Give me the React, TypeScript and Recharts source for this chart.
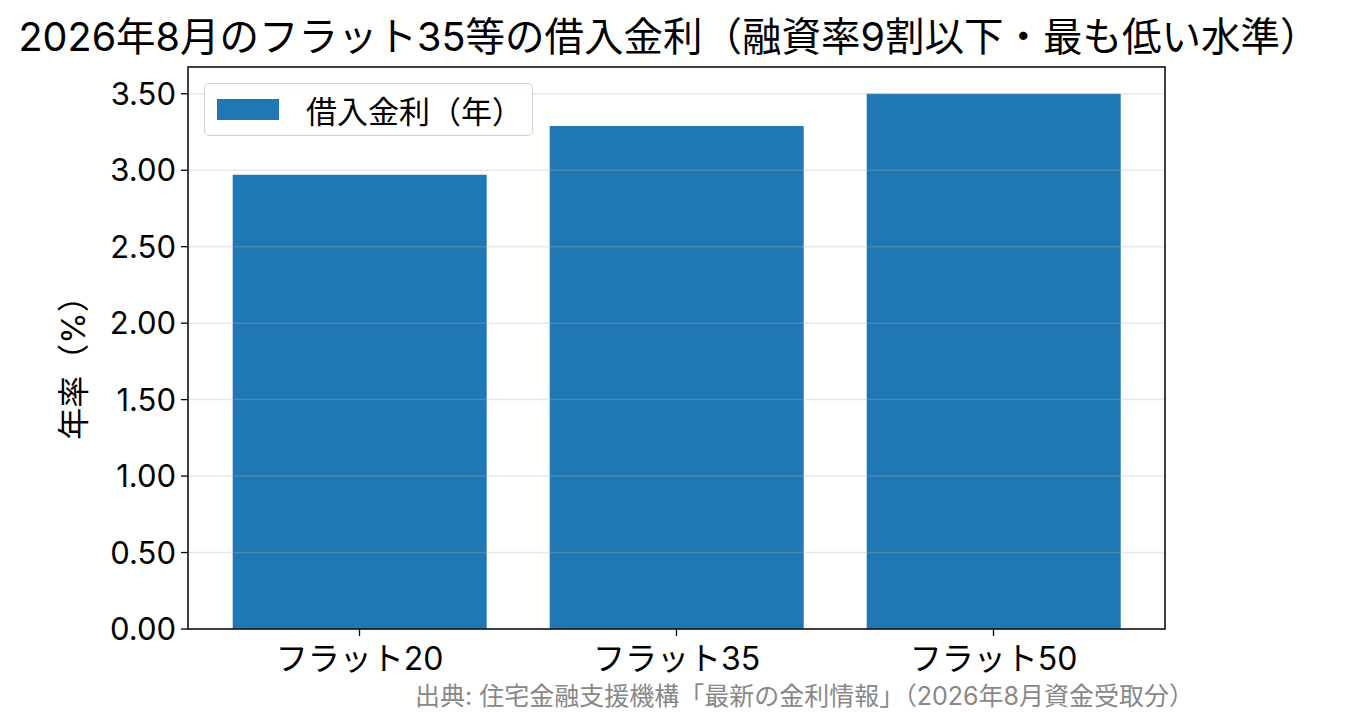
import React from "react";
import { BarChart, Bar, XAxis, YAxis, ReferenceLine } from "recharts";

const FONT = "Inter, 'Noto Sans CJK JP', 'Noto Sans', sans-serif";
const BLUE = "#1f77b4";

const TITLE = "2026年8月のフラット35等の借入金利（融資率9割以下・最も低い水準）";
const SOURCE = "出典: 住宅金融支援機構「最新の金利情報」（2026年8月資金受取分）";
const Y_LABEL = "年率（%）";
const SERIES_NAME = "借入金利（年）";

const PRODUCTS = ["フラット20", "フラット35", "フラット50"];
const RATES = [2.97, 3.29, 3.5];
const Y_TICKS = [0, 0.5, 1, 1.5, 2, 2.5, 3, 3.5];

const data = PRODUCTS.map((name, i) => ({ name, rate: RATES[i] }));

function LegendBox() {
  return (
    <div
      style={{
        position: "absolute",
        left: 204,
        top: 83,
        display: "flex",
        alignItems: "center",
        width: 329,
        height: 53,
        boxSizing: "border-box",
        border: "1.5px solid #d0d0d0",
        borderRadius: 5,
        background: "rgba(255,255,255,0.85)",
        fontFamily: FONT,
        fontSize: 31,
        color: "#000",
      }}
    >
      <span style={{ width: 62, height: 21, background: BLUE, marginLeft: 12, marginRight: 27 }} />
      <span>{SERIES_NAME}</span>
    </div>
  );
}

export default function App() {
  return (
    <div style={{ position: "absolute", left: 0, top: 0, width: 1353, height: 725, background: "#fff" }}>
      <BarChart
        width={1353}
        height={725}
        data={data}
        margin={{ top: 67, right: 188, bottom: 0, left: 0 }}
        barCategoryGap="10%"
      >
        <XAxis
          dataKey="name"
          height={96}
          padding={{ left: 13, right: 13 }}
          axisLine={false}
          tickLine={{ stroke: "#000", strokeWidth: 1.3 }}
          tickSize={7}
          tickMargin={11}
          tick={{ fill: "#000", fontSize: 32, fontFamily: FONT }}
        />
        <YAxis
          width={188}
          domain={[0, 3.675]}
          ticks={Y_TICKS}
          tickFormatter={(v: number) => v.toFixed(2)}
          axisLine={false}
          tickLine={{ stroke: "#000", strokeWidth: 1.3 }}
          tickSize={7}
          tickMargin={5}
          tick={{ fill: "#000", fontSize: 31, fontFamily: FONT }}
        />
        <Bar dataKey="rate" name={SERIES_NAME} fill={BLUE} isAnimationActive={false} />
        {Y_TICKS.map((t) => (
          <ReferenceLine key={t} y={t} stroke="#b0b0b0" strokeOpacity={0.3} strokeWidth={1.5} />
        ))}
      </BarChart>
      <LegendBox />
      <svg
        width={1353}
        height={725}
        style={{ position: "absolute", left: 0, top: 0, pointerEvents: "none" }}
      >
        <rect x={188} y={67} width={977} height={562} fill="none" stroke="#111" strokeWidth={1.6} />
        <text x={669} y={51} textAnchor="middle" fontFamily={FONT} fontSize={39.5} fill="#000">
          {TITLE}
        </text>
        <text
          transform="translate(85,360) rotate(-90)"
          textAnchor="middle"
          fontFamily={FONT}
          fontSize={32}
          fill="#000"
        >
          {Y_LABEL}
        </text>
        <text x={1194} y={705} textAnchor="end" fontFamily={FONT} fontSize={25} fill="#888">
          {SOURCE}
        </text>
      </svg>
    </div>
  );
}
